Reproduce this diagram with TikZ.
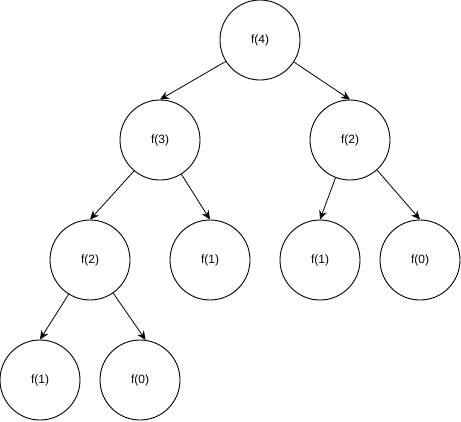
\documentclass[tikz,border=0pt]{standalone}
\usepackage{fontspec}
\setmainfont{Liberation Sans}
\usetikzlibrary{arrows.meta}
\begin{document}
\begin{tikzpicture}[x=1pt,y=-1pt,
  fnode/.style={circle,draw=black,line width=0.9pt,minimum size=80pt,inner sep=0pt,font=\fontsize{12}{14}\selectfont},
  edge/.style={draw=black,line width=0.8pt,-{Stealth[length=9pt,width=8pt,inset=3pt]}}]
\useasboundingbox (0,0) rectangle (461,421);
\node[fnode] (a) at (260,40) {f(4)};
\node[fnode] (b) at (160,140) {f(3)};
\node[fnode] (c) at (350,140) {f(2)};
\node[fnode] (d) at (90,260) {f(2)};
\node[fnode] (e) at (210,260) {f(1)};
\node[fnode] (f) at (320,260) {f(1)};
\node[fnode] (g) at (420,260) {f(0)};
\node[fnode] (h) at (40,380) {f(1)};
\node[fnode] (i) at (140,380) {f(0)};
\draw[edge] (a.212) -- (b.north);
\draw[edge] (a.327) -- (c.north);
\draw[edge] (b.230) -- (d.north);
\draw[edge] (b.302) -- (e.north);
\draw[edge] (c.249) -- (f.north);
\draw[edge] (c.312) -- (g.north);
\draw[edge] (d.238) -- (h.north);
\draw[edge] (d.305) -- (i.82);
\end{tikzpicture}
\end{document}
